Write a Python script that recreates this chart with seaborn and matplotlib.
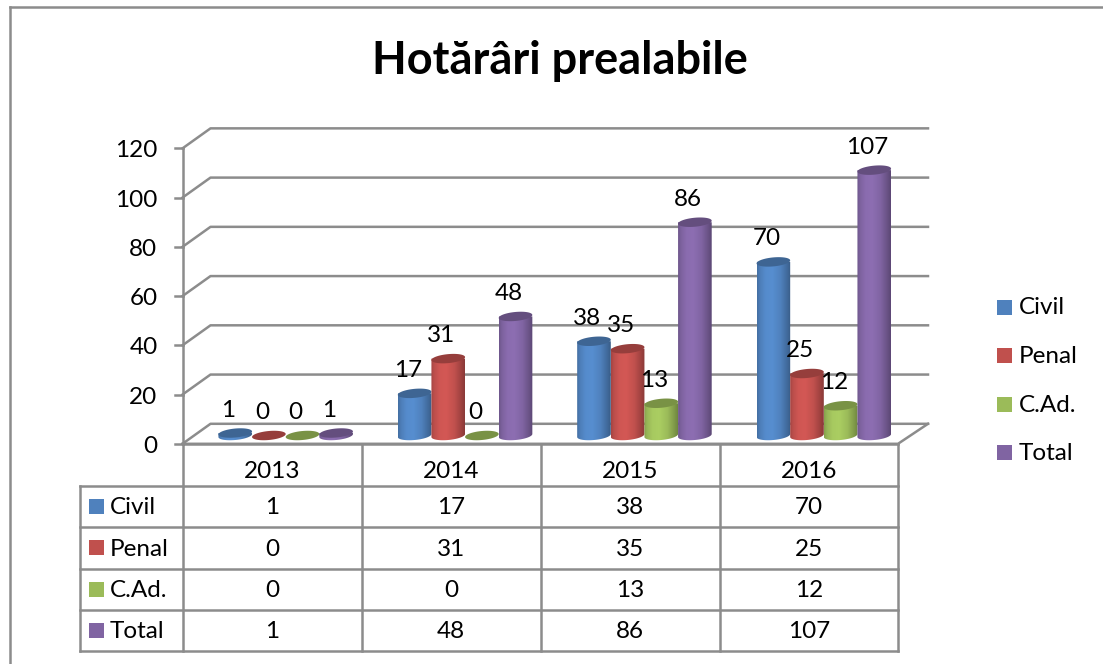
import numpy as np
import pandas as pd
import matplotlib
matplotlib.use('Agg')
import matplotlib.pyplot as plt
from matplotlib.patches import Polygon
import seaborn as sns

years = ['2013', '2014', '2015', '2016']
series_names = ['Civil', 'Penal', 'C.Ad.', 'Total']
civil = [1, 17, 38, 70]
penal = [0, 31, 35, 25]
cad = [0, 0, 13, 12]
total = [1, 48, 86, 107]
y_ticks = [0, 20, 40, 60, 80, 100, 120]
title = 'Hotărâri prealabile'
colors = ['#4F81BD', '#C0504D', '#9BBB59', '#8064A2']

W, H = 1103, 664
GREY = '#8C8C8C'
FONT = 'Lato'
FS = 17.5

plt.rcParams['font.family'] = [FONT, 'DejaVu Sans']

values = [civil, penal, cad, total]
df = pd.DataFrame({
    'year': years * 4,
    'serie': [s for s in series_names for _ in years],
    'value': civil + penal + cad + total,
})

fig = plt.figure(figsize=(W / 100, H / 100), dpi=100, facecolor='white')

# fundal in pixeli: pereti, grila, tabel, legenda
bg = fig.add_axes([0, 0, 1, 1])
bg.set_xlim(0, W)
bg.set_ylim(H, 0)
bg.axis('off')


def line(xs, ys, lw=1.8):
    bg.plot(xs, ys, color=GREY, lw=lw, solid_capstyle='projecting')


# rama imaginii (doar stanga si sus)
line([9.5, 9.5], [H + 5, 7])
line([9.5, W + 5], [7, 7])

# grila 3D
y_zero, px_per_unit = 443.8, 2.462
dx, dy = 28, -20
x_front, x_right = 182.5, 898
for v in y_ticks:
    y = y_zero - v * px_per_unit
    line([x_front, x_front + dx, x_right + 30], [y, y + dy, y + dy])
    line([x_front - 8, x_front], [y, y])
    bg.text(x_front - 25, y + 2.5, str(v), ha='right', va='center', fontsize=FS)
line([x_front, x_front], [y_zero, y_zero - 120 * px_per_unit])
line([x_front, x_right, x_right + 30], [y_zero, y_zero, y_zero + dy])

# tabel
col_x = [182.5, 361.5, 540.5, 719.5, 898]
row_y = [443.8, 485.5, 527, 568.5, 610, 651]
x_left = 80
for x in col_x:
    line([x, x], [row_y[0], row_y[-1]])
line([x_left, x_left], [row_y[1], row_y[-1]])
line([col_x[0], col_x[-1]], [row_y[0], row_y[0]])
for y in row_y[1:]:
    line([x_left, col_x[-1]], [y, y])
for i, yr in enumerate(years):
    xc = (col_x[i] + col_x[i + 1]) / 2
    bg.text(xc, (row_y[0] + row_y[1]) / 2 + 7, yr, ha='center', va='center', fontsize=FS)
for r, name in enumerate(series_names):
    yc = (row_y[r + 1] + row_y[r + 2]) / 2
    bg.fill([89, 104, 104, 89], [yc - 7.5, yc - 7.5, yc + 7.5, yc + 7.5], color=colors[r], lw=0)
    bg.text(110, yc + 1.5, name, ha='left', va='center', fontsize=FS)
    for i in range(4):
        xc = (col_x[i] + col_x[i + 1]) / 2
        bg.text(xc, yc + 1.5, str(values[r][i]), ha='center', va='center', fontsize=FS)

# legenda
for name, col, yc in zip(series_names, colors, [307, 355.5, 404, 452]):
    bg.fill([997, 1012, 1012, 997], [yc - 7.5, yc - 7.5, yc + 7.5, yc + 7.5], color=col, lw=0)
    bg.text(1019, yc + 1, name, ha='left', va='center', fontsize=FS)

fig.text(560 / W, 1 - 61 / H, title, ha='center', va='center', fontsize=32.5, fontweight='bold')

# barele
bar_zero, bar_scale = 435.5, 2.48
top_px = bar_zero - 120 * bar_scale
ax = fig.add_axes([196 / W, 1 - bar_zero / H, 717.5 / W, (bar_zero - top_px) / H])
ax.patch.set_alpha(0)
sns.barplot(data=df, x='year', y='value', hue='serie', hue_order=series_names,
            palette=colors, saturation=1, width=0.75, gap=0, legend=False, ax=ax)
ax.set_xlim(-0.5, 3.5)
ax.set_ylim(0, 120)
ax.axis('off')

# umbrire cilindru: margini inchise, centru deschis
pos = np.array([0, 0.08, 0.25, 0.45, 0.7, 0.9, 1])
shade = np.array([0.86, 0.97, 1.08, 1.1, 1.0, 0.82, 0.72])
u = np.linspace(0, 1, 64)
profile = np.interp(u, pos, shade)

cap_b = 4.5 / bar_scale
cap_tilt = 1.5 / bar_scale
t = np.linspace(0, 2 * np.pi, 80)

for s, cont in enumerate(ax.containers):
    rgb = np.array(matplotlib.colors.to_rgb(colors[s]))
    img = np.clip(profile[:, None] * rgb, 0, 1)[None, :, :]
    for bar in cont:
        x0, w, h = bar.get_x(), bar.get_width(), bar.get_height()
        bar.set_visible(False)
        cx = x0 + w / 2
        ex = cx + w / 2 * np.cos(t)
        tilt = cap_tilt * np.cos(t)
        z = 3 + s
        if h > 0:
            low = t[(t >= np.pi)]
            body_x = np.r_[x0, cx + w / 2 * np.cos(low), x0 + w]
            body_y = np.r_[h, cap_b * np.sin(low) + cap_tilt * np.cos(low), h]
            clip = Polygon(np.c_[body_x, body_y], transform=ax.transData)
            im = ax.imshow(img, extent=[x0, x0 + w, -4, h + 1], aspect='auto', zorder=z,
                           interpolation='bilinear')
            im.set_clip_path(clip)
            im.set_clip_box(fig.bbox)
        ax.fill(ex, h + cap_b * np.sin(t) + tilt, color=rgb * 0.78, lw=0, zorder=z + 0.5, clip_on=False)
        ax.annotate(f'{h:.0f}', (cx, h), xytext=(-5, 23 * 0.72), textcoords='offset points',
                    ha='center', va='center', fontsize=FS, zorder=20, annotation_clip=False)
ax.set_xlim(-0.5, 3.5)
ax.set_ylim(0, 120)

fig.savefig('out.png', dpi=100)
